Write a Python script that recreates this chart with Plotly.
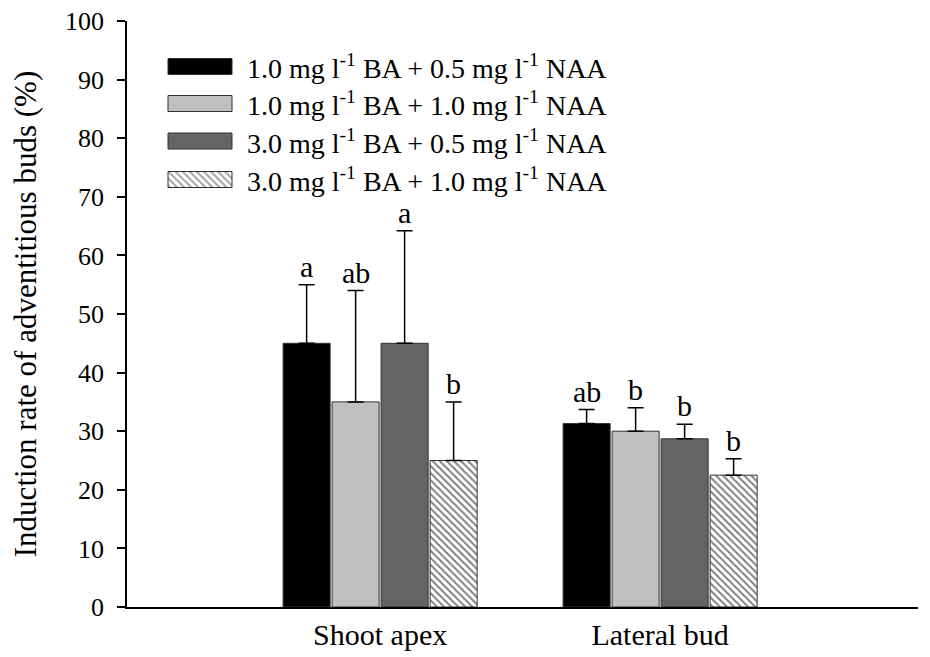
import plotly.graph_objects as go

categories = ["Shoot apex", "Lateral bud"]
series_names = [
    "1.0 mg l<sup>-1</sup> BA + 0.5 mg l<sup>-1</sup> NAA",
    "1.0 mg l<sup>-1</sup> BA + 1.0 mg l<sup>-1</sup> NAA",
    "3.0 mg l<sup>-1</sup> BA + 0.5 mg l<sup>-1</sup> NAA",
    "3.0 mg l<sup>-1</sup> BA + 1.0 mg l<sup>-1</sup> NAA",
]
means = [
    [45.0, 31.3],
    [35.0, 30.0],
    [45.0, 28.7],
    [25.0, 22.5],
]
errors = [
    [10.0, 2.4],
    [19.0, 4.0],
    [19.2, 2.5],
    [10.0, 2.8],
]
letters = [
    ["a", "ab"],
    ["ab", "b"],
    ["a", "b"],
    ["b", "b"],
]
colors = ["#000000", "#c0c0c0", "#646464", "#ffffff"]
patterns = ["", "", "", "\\"]
y_ticks = list(range(0, 101, 10))

FONT = "Liberation Serif"
OFF = 8  # default page body margin
W, H = 930 - OFF, 657 - OFF
# reference pixel geometry of plot area
AX_L, AX_R, AX_T, AX_B = 127, 918, 21, 607
L = AX_L - OFF
T = AX_T - OFF
R = W - (AX_R - OFF)
B = H - (AX_B - OFF)
pw, ph = W - L - R, H - T - B

def px_x(p):
    return (p - AX_L) / pw

def px_y(p):
    return (AX_B - p) / ph

fig = go.Figure()

xpos = list(range(len(categories)))
n = len(series_names)
bargap = 0.3
slot = (1 - bargap) / n
pat = dict(fgcolor="#000000", bgcolor="#ffffff", size=5, solidity=0.4)
for i in range(n):
    fig.add_trace(go.Bar(
        x=xpos, y=means[i], name=series_names[i], showlegend=False,
        marker=dict(color=colors[i], line=dict(color="#303030", width=1),
                    pattern=dict(shape=patterns[i], **pat)),
        error_y=dict(type="data", array=errors[i], arrayminus=[0] * len(xpos),
                     symmetric=False, color="#000000", thickness=1.5, width=8),
    ))
    off = -(1 - bargap) / 2 + slot * (i + 0.5)
    for j in xpos:
        fig.add_annotation(x=j + off, y=means[i][j] + errors[i][j], text=letters[i][j],
                           showarrow=False, yanchor="bottom", yshift=0,
                           font=dict(family=FONT, size=30, color="#000"))

# legend built as a small overlay subplot (reference pixel coordinates)
leg_rows = [66.5, 103.5, 141, 179.5]
fig.add_trace(go.Bar(
    y=leg_rows, x=[64] * n, base=[168] * n, orientation="h", width=16,
    xaxis="x2", yaxis="y2", showlegend=False, hoverinfo="skip",
    marker=dict(color=colors, line=dict(color="#303030", width=1),
                pattern=dict(shape=patterns, **pat)),
))
for i in range(n):
    fig.add_annotation(x=245, y=leg_rows[i], xref="x2", yref="y2", text=series_names[i],
                       showarrow=False, xanchor="left", yanchor="middle",
                       font=dict(family=FONT, size=28, color="#000"))

fig.update_layout(
    width=W, height=H,
    margin=dict(l=L, r=R, t=T, b=B, autoexpand=False),
    paper_bgcolor="white", plot_bgcolor="white",
    barmode="group", bargap=bargap, bargroupgap=0.04,
    font=dict(family=FONT, size=26, color="#000"),
    xaxis=dict(range=[-0.904, 1.921], tickmode="array", tickvals=xpos, ticktext=categories,
               showline=True, linecolor="#000", linewidth=1.5, ticks="", showgrid=False,
               zeroline=False, tickfont=dict(family=FONT, size=30, color="#000")),
    yaxis=dict(range=[0, 100], tickmode="array", tickvals=y_ticks,
               showline=True, linecolor="#000", linewidth=1.5, ticks="outside", ticklen=8,
               tickwidth=1.5, tickcolor="#000", showgrid=False, zeroline=False,
               ticklabelstandoff=8, ticklabeloverflow="allow",
               tickfont=dict(family=FONT, size=26, color="#000"),
               title=dict(text="Induction rate of adventitious buds (%)", standoff=34,
                          font=dict(family=FONT, size=31, color="#000"))),
    xaxis2=dict(domain=[px_x(150), px_x(650)], range=[150, 650], anchor="y2",
                visible=False, fixedrange=True),
    yaxis2=dict(domain=[px_y(200), px_y(40)], range=[200, 40], anchor="x2",
                visible=False, fixedrange=True),
)

fig.write_html("out.html")
